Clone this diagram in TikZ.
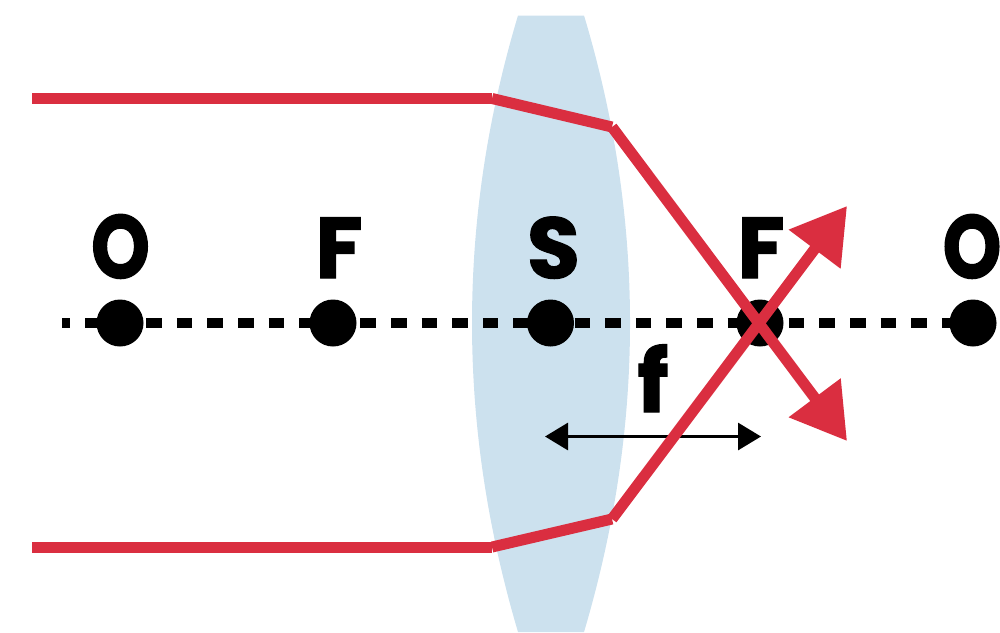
\documentclass[tikz,border=0pt]{standalone}
\usepackage{fontspec}
\usetikzlibrary{arrows.meta}
\newfontfamily\labelfont[FakeBold=1.5]{Poppins Bold}
\definecolor{lensblue}{HTML}{CCE1EE}
\definecolor{rayred}{HTML}{DA2E40}
\newcommand{\narrowO}{\scalebox{0.87}[1.04]{O}}
\tikzset{pointdot/.style={circle,fill=black,inner sep=0pt,minimum size=4.7mm}}
\tikzset{pointlabel/.style={anchor=base,inner sep=0pt,font=\labelfont\fontsize{24.5}{24.5}\selectfont}}
\tikzset{axisline/.style={line width=1mm,dash pattern=on 1.55mm off 1.51mm,dash phase=0.76mm}}
\tikzset{rayline/.style={rayred,line width=1.1mm}}
\tikzset{raytip/.style={-{Triangle[length=5.4mm,width=6.2mm]}}}
\tikzset{focalline/.style={black,line width=0.3mm,{Triangle[length=2.3mm,width=2.7mm]}-{Triangle[length=2.3mm,width=2.7mm]}}}

\begin{document}
\begin{tikzpicture}[x=1cm,y=-1cm]
\useasboundingbox (0,0) rectangle (10,6.32);
% lens
\fill[lensblue] (5.18,0.155) -- (5.84,0.155)
  .. controls (6.147,1.177) and (6.30,2.20) .. (6.30,3.23)
  .. controls (6.30,4.26) and (6.147,5.283) .. (5.84,6.32)
  -- (5.18,6.32)
  .. controls (4.873,5.283) and (4.72,4.26) .. (4.72,3.23)
  .. controls (4.72,2.20) and (4.873,1.177) .. (5.18,0.155) -- cycle;
% axis and points
\node[pointdot] (objleft) at (1.20,3.23) {};
\node[pointdot] (focleft) at (3.33,3.23) {};
\node[pointdot] (centre) at (5.505,3.23) {};
\node[pointdot] (focright) at (7.60,3.23) {};
\node[pointdot] (objright) at (9.73,3.23) {};
\coordinate (axisstart) at (0.62,3.23);
\draw[axisline] (axisstart) -- (objright.center);
\node[pointlabel] (lblobjleft) at (1.205,2.78) {\narrowO};
\node[pointlabel] (lblfocleft) at (3.39,2.78) {F};
\node[pointlabel] (lblcentre) at (5.535,2.78) {S};
\node[pointlabel] (lblfocright) at (7.61,2.78) {F};
\node[pointlabel] (lblobjright) at (9.72,2.78) {\narrowO};
\node[pointlabel] (lblf) at (6.53,4.12) {f};
% focal length
\coordinate (flenleft) at (5.45,4.365);
\coordinate (flenright) at (7.61,4.365);
\draw[focalline] (flenleft) -- (flenright);
% rays
\coordinate (topstart) at (0.32,0.985);
\coordinate (topin) at (4.92,0.985);
\coordinate (topout) at (6.12,1.27);
\coordinate (toptip) at (8.47,4.41);
\coordinate (botstart) at (0.32,5.47);
\coordinate (botin) at (4.92,5.47);
\coordinate (botout) at (6.12,5.19);
\coordinate (bottip) at (8.47,2.06);
\draw[rayline] (topstart) -- (topin);
\draw[rayline] (topin) -- (topout);
\draw[rayline,raytip] (topout) -- (toptip);
\draw[rayline] (botstart) -- (botin);
\draw[rayline] (botin) -- (botout);
\draw[rayline,raytip] (botout) -- (bottip);
\end{tikzpicture}
\end{document}
